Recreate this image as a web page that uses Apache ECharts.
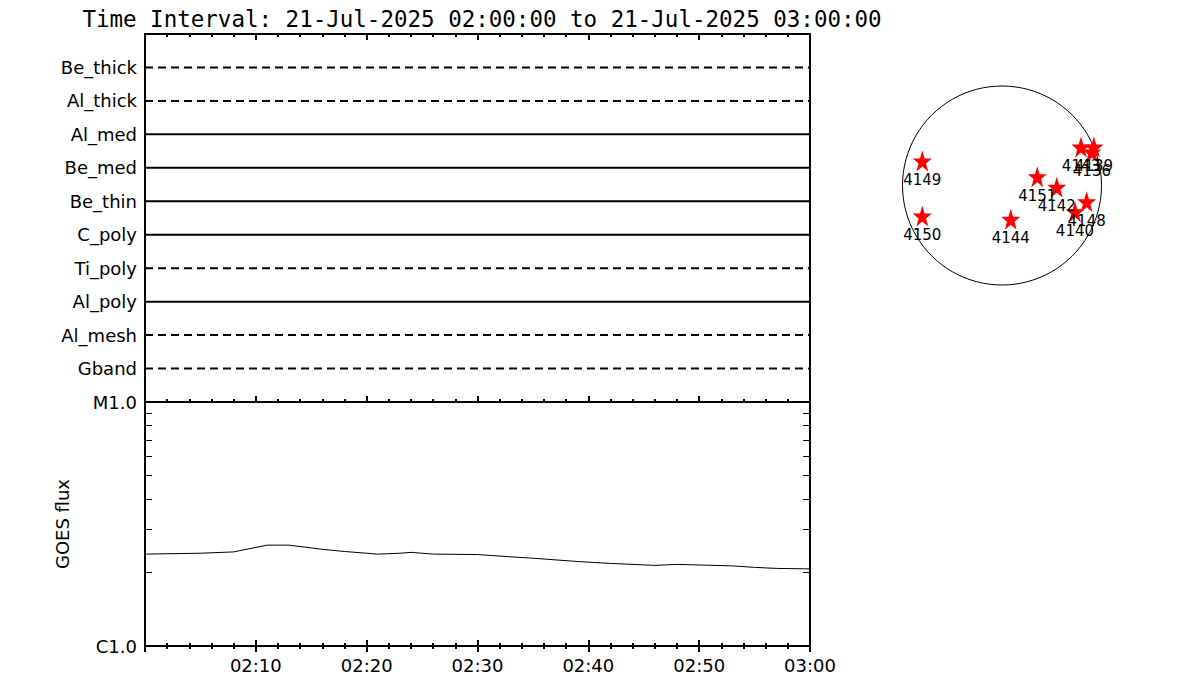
<!DOCTYPE html>
<html><head><meta charset="utf-8">
<script src="https://cdn.jsdelivr.net/npm/echarts@6/dist/echarts.min.js"></script>
<style>html,body{margin:0;padding:0;background:#fff}#c{width:1200px;height:700px}</style>
</head><body><div id="c"></div>
<script>
const titleText = 'Time Interval: 21-Jul-2025 02:00:00 to 21-Jul-2025 03:00:00';
const channels = ['Be_thick','Al_thick','Al_med','Be_med','Be_thin','C_poly','Ti_poly','Al_poly','Al_mesh','Gband'];
const channelLine = ['dashed','dashed','solid','solid','solid','solid','dashed','solid','dashed','dashed'];
const timeTickLabels = ['', '02:10', '02:20', '02:30', '02:40', '02:50', '03:00'];
const goesTimes = ['02:00','02:05','02:08','02:11','02:13','02:16','02:18','02:21','02:23','02:24','02:26','02:30','02:33','02:35','02:39','02:42','02:46','02:48','02:53','02:55','02:57','03:00'];
const goesFlux = [2.38,2.40,2.43,2.59,2.59,2.49,2.44,2.38,2.40,2.42,2.38,2.37,2.32,2.29,2.22,2.18,2.14,2.16,2.13,2.10,2.08,2.07]; // x1e-6 W/m^2
const fluxTickValues = [1e-6, 1e-5];
const fluxTickLabels = ['C1.0', 'M1.0'];
const fluxMinorTicks = [2, 3, 4, 5, 6, 7, 8, 9];
const arNames = ['4149','4150','4144','4151','4142','4140','4148','4143','4139','4136'];
const arX = [-757, -757, 83, 335, 520, 693, 804, 750, 873, 854];
const arY = [233, -290, -321, 84, -17, -249, -154, 366, 366, 318];
const solarRadius = 945;

const FONT = 'DejaVu Sans';
const toMin = t => { const p = t.split(':').map(Number); return (p[0] - 2) * 60 + p[1]; };
const starPath = 'path://M50,0 L61.8,35.1 L98.9,35.1 L69.1,56.7 L80.3,91.9 L50,70.2 L19.7,91.9 L30.9,56.7 L1.1,35.1 L38.2,35.1 Z';

function timeAxis(grid, pos, labels) {
  return {
    type: 'value', gridIndex: grid, position: pos, min: 0, max: 60, interval: 10,
    axisLine: { show: false },
    axisTick: { show: true, inside: true, length: 6, lineStyle: { color: '#000', width: 2 } },
    minorTick: { show: true, splitNumber: 5, length: 3, lineStyle: { color: '#000', width: 2 } },
    splitLine: { show: false }, minorSplitLine: { show: false },
    axisLabel: labels ? {
      show: true, margin: 10, color: '#000', fontFamily: FONT, fontSize: 18,
      formatter: v => timeTickLabels[Math.round(v / 10)] || ''
    } : { show: false }
  };
}
function minorLogAxis(pos) {
  return {
    type: 'value', gridIndex: 1, position: pos, min: 0, max: 1,
    axisLine: { show: false },
    axisTick: { show: true, inside: true, length: 7, lineStyle: { color: '#000', width: 1 },
      customValues: fluxMinorTicks.map(k => Math.log10(k)) },
    axisLabel: { show: false }, splitLine: { show: false }
  };
}

const series = channels.map((name, i) => ({
  name, type: 'line', xAxisIndex: 0, yAxisIndex: 0, symbol: 'none', silent: true,
  data: [[0, i + 1], [60, i + 1]],
  lineStyle: { color: '#000', width: 2, type: channelLine[i] === 'dashed' ? [8, 5] : 'solid' }
}));
series.push({
  name: 'GOES', type: 'line', xAxisIndex: 3, yAxisIndex: 1, symbol: 'none', silent: true,
  data: goesTimes.map((t, i) => [toMin(t), goesFlux[i] * 1e-6]),
  lineStyle: { color: '#000', width: 1 }
});
series.push({
  name: 'AR', type: 'scatter', xAxisIndex: 4, yAxisIndex: 4, symbol: starPath, symbolSize: [19, 21],
  itemStyle: { color: '#ff0000', opacity: 1 },
  label: { show: true, position: 'bottom', distance: 1, formatter: '{b}', color: '#000', fontFamily: FONT, fontSize: 15 },
  labelLayout: { hideOverlap: false },
  data: arNames.map((n, i) => ({ name: n, value: [arX[i], arY[i]] }))
});

const chart = echarts.init(document.getElementById('c'), null, { renderer: 'svg' });
chart.setOption({
  animation: false,
  backgroundColor: '#fff',
  title: { text: titleText, left: 477, top: 2, textAlign: 'center',
    textStyle: { color: '#000', fontFamily: 'DejaVu Sans Mono', fontSize: 22.5, fontWeight: 'normal' } },
  grid: [
    { left: 145, top: 34, width: 665, height: 368, show: true, borderColor: '#000', borderWidth: 2, backgroundColor: 'transparent' },
    { left: 145, top: 402, width: 665, height: 244, show: true, borderColor: '#000', borderWidth: 2, backgroundColor: 'transparent' },
    { left: 902.5, top: 86, width: 199, height: 199, show: false }
  ],
  xAxis: [
    timeAxis(0, 'top', false), timeAxis(0, 'bottom', false),
    timeAxis(1, 'top', false), timeAxis(1, 'bottom', true),
    { type: 'value', gridIndex: 2, min: -solarRadius, max: solarRadius, show: false }
  ],
  yAxis: [
    { type: 'value', gridIndex: 0, inverse: true, min: 0, max: 11, interval: 1,
      axisLine: { show: false }, axisTick: { show: false }, splitLine: { show: false },
      axisLabel: { margin: 8, color: '#000', fontFamily: FONT, fontSize: 18, formatter: v => channels[v - 1] || '' } },
    { type: 'log', logBase: 10, gridIndex: 1, min: 1e-6, max: 1e-5,
      axisLine: { show: false }, axisTick: { show: false }, splitLine: { show: false }, minorTick: { show: false },
      axisLabel: { margin: 8, color: '#000', fontFamily: FONT, fontSize: 18,
        formatter: v => { const e = Math.round(Math.log10(v)); const k = fluxTickValues.findIndex(t => Math.round(Math.log10(t)) === e); return k >= 0 ? fluxTickLabels[k] : ''; } },
      name: 'GOES flux', nameLocation: 'middle', nameGap: 74, nameRotate: 90,
      nameTextStyle: { color: '#000', fontFamily: FONT, fontSize: 18 } },
    minorLogAxis('left'), minorLogAxis('right'),
    { type: 'value', gridIndex: 2, min: -solarRadius, max: solarRadius, show: false }
  ],
  series
});
const c0 = chart.convertToPixel({ xAxisIndex: 4, yAxisIndex: 4 }, [0, 0]);
const c1 = chart.convertToPixel({ xAxisIndex: 4, yAxisIndex: 4 }, [solarRadius, 0]);
chart.setOption({ graphic: [{ type: 'circle', silent: true, z: 1,
  shape: { cx: c0[0], cy: c0[1], r: c1[0] - c0[0] },
  style: { fill: 'none', stroke: '#000', lineWidth: 1 } }] });
</script></body></html>
